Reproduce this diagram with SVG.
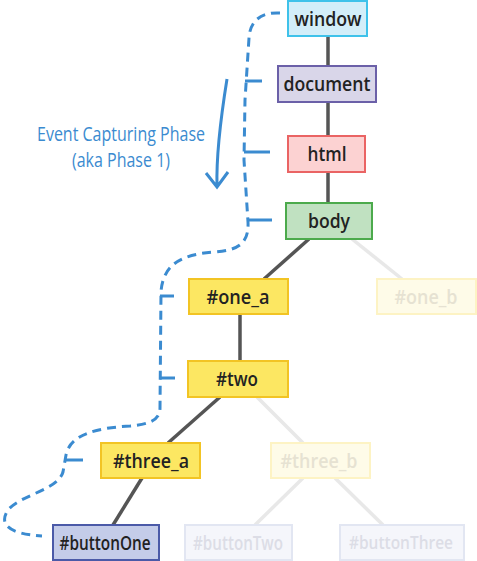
<svg xmlns="http://www.w3.org/2000/svg" width="477" height="561" viewBox="0 0 477 561">
<style>
.n rect{stroke-width:2}
.n text{font-family:"Open Sans","Noto Sans",sans-serif;font-size:20px;font-weight:600;fill:#222;text-anchor:middle}
.f text{fill:#e6e2d2}
.fb text{fill:#dcdde6}
.e{stroke:#555;stroke-width:3.5;fill:none}
.ef{stroke:#e8e8e8;stroke-width:3.5;fill:none}
.d{stroke:#3b8bd0;stroke-width:3;fill:none;stroke-dasharray:9 6}
.t{stroke:#3b8bd0;stroke-width:3;fill:none}
.lbl{font-family:"Open Sans","Noto Sans",sans-serif;font-size:20px;font-weight:500;fill:#3b8bd0;text-anchor:middle}
</style>
<rect width="477" height="561" fill="#fff"/>
<g id="connectors">
<line class="e" x1="328" y1="36" x2="328" y2="66"/>
<line class="e" x1="328" y1="102" x2="328" y2="136"/>
<line class="e" x1="328" y1="172" x2="328" y2="203"/>
<line class="e" x1="309" y1="239" x2="264" y2="279"/>
<line class="ef" x1="352" y1="239" x2="402" y2="279"/>
<line class="e" x1="240" y1="314" x2="240" y2="361"/>
<line class="e" x1="220" y1="397" x2="168" y2="443"/>
<line class="ef" x1="257" y1="397" x2="303" y2="443"/>
<line class="e" x1="142" y1="478" x2="113" y2="525"/>
<line class="ef" x1="303" y1="478" x2="255" y2="525"/>
<line class="ef" x1="335" y1="478" x2="383" y2="525"/>
</g>
<g id="capture-path">
<path class="d" d="M 280 13 C 262 12 250 20 249 38 L 245 100 L 244 160 L 248 222 C 249 244 238 250 215 252 C 185 254 163 262 161 292 L 160 408 C 160 420 150 424 130 426 C 95 428 70 435 66 455 L 63 472 C 58 490 20 495 8 510 C -2 525 10 534 42 536"/>
<path class="t" d="M 245 81 H 262 M 244 152 H 270 M 248 220 H 272 M 160 296 H 174 M 160 378 H 175 M 65 460 H 83"/>
<path class="t" d="M 227 79 C 222 110 216 150 217 186 M 206 173 L 217 187 L 228 172"/>
<text class="lbl" x="121" y="141" textLength="168" lengthAdjust="spacingAndGlyphs">Event Capturing Phase</text>
<text class="lbl" x="121" y="167" textLength="98" lengthAdjust="spacingAndGlyphs">(aka Phase 1)</text>
</g>
<g id="window" class="n"><rect x="288" y="1" width="79" height="35" fill="#d3eef9" stroke="#3fc2ea"/><text x="328" y="26" textLength="67" lengthAdjust="spacingAndGlyphs">window</text></g>
<g id="document" class="n"><rect x="278" y="66" width="98" height="36" fill="#d9d6e9" stroke="#6b60a8"/><text x="327" y="91" textLength="87" lengthAdjust="spacingAndGlyphs">document</text></g>
<g id="html" class="n"><rect x="288" y="136" width="77" height="36" fill="#fcd2d2" stroke="#ea6464"/><text x="327" y="161" textLength="39" lengthAdjust="spacingAndGlyphs">html</text></g>
<g id="body" class="n"><rect x="286" y="203" width="86" height="36" fill="#c0e1c1" stroke="#4caa4c"/><text x="329" y="228" textLength="42" lengthAdjust="spacingAndGlyphs">body</text></g>
<g id="one_a" class="n"><rect x="189" y="279" width="99" height="35" fill="#fce762" stroke="#f2c424"/><text x="238" y="304" textLength="63" lengthAdjust="spacingAndGlyphs">#one_a</text></g>
<g id="one_b" class="n f"><rect x="377" y="279" width="99" height="35" fill="#fefbe8" stroke="#fdf3c4"/><text x="426" y="304" textLength="63" lengthAdjust="spacingAndGlyphs">#one_b</text></g>
<g id="two" class="n"><rect x="188" y="361" width="100" height="36" fill="#fce762" stroke="#f2c424"/><text x="237" y="386" textLength="42" lengthAdjust="spacingAndGlyphs">#two</text></g>
<g id="three_a" class="n"><rect x="101" y="443" width="99" height="35" fill="#fce762" stroke="#f2c424"/><text x="151" y="468" textLength="76" lengthAdjust="spacingAndGlyphs">#three_a</text></g>
<g id="three_b" class="n f"><rect x="271" y="443" width="99" height="35" fill="#fefbe8" stroke="#fdf3c4"/><text x="319" y="468" textLength="77" lengthAdjust="spacingAndGlyphs">#three_b</text></g>
<g id="buttonOne" class="n"><rect x="53" y="525" width="106" height="35" fill="#c4cce9" stroke="#4b5aa8"/><text x="105" y="550" textLength="91" lengthAdjust="spacingAndGlyphs">#buttonOne</text></g>
<g id="buttonTwo" class="n fb"><rect x="185" y="525" width="107" height="35" fill="#f5f6fb" stroke="#e2e6f2"/><text x="238" y="550" textLength="90" lengthAdjust="spacingAndGlyphs">#buttonTwo</text></g>
<g id="buttonThree" class="n fb"><rect x="340" y="525" width="124" height="35" fill="#f5f6fb" stroke="#e2e6f2"/><text x="401" y="549" style="font-size:18px" textLength="104" lengthAdjust="spacingAndGlyphs">#buttonThree</text></g>
</svg>
